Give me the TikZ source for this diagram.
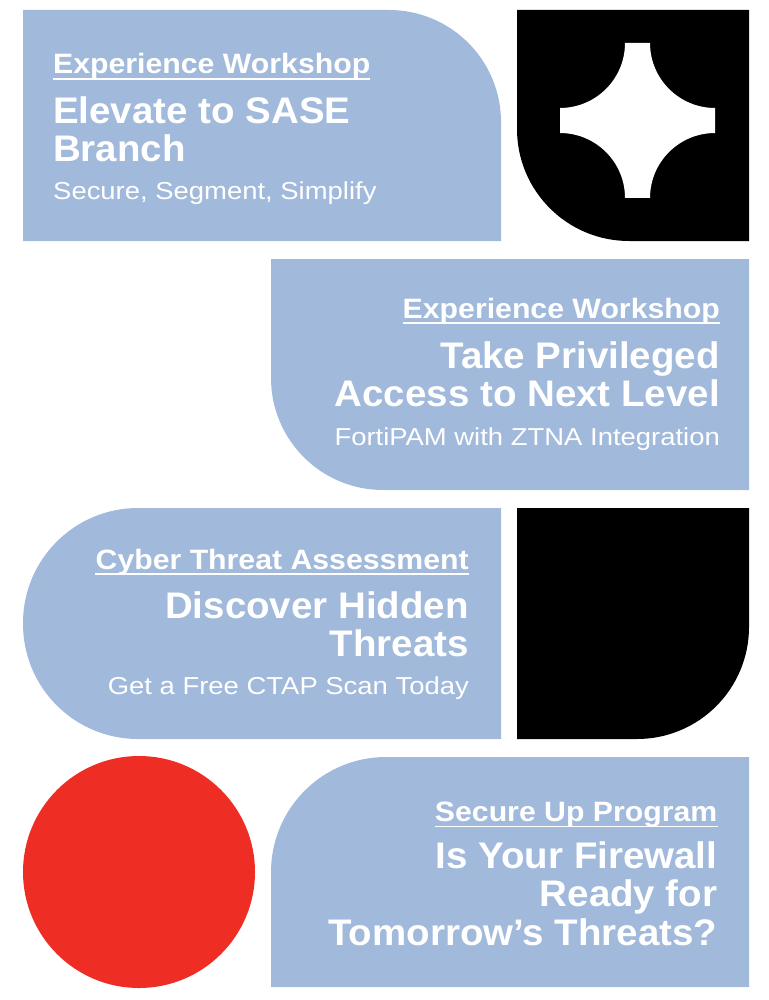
\documentclass[tikz,border=0pt]{standalone}
\usepackage{fontspec}
\setmainfont{Liberation Sans}
\newfontfamily\subhfont{Liberation Sans}[FakeStretch=1.08]
\newfontfamily\titlefont{Liberation Sans}[FakeStretch=1.04]
\newfontfamily\tagfont{Liberation Sans}[FakeStretch=1.12]
\definecolor{panelblue}{HTML}{A1B9DB}
\definecolor{dotred}{HTML}{EE2E24}
\tikzset{
  panel/.style={fill=panelblue},
  blackbox/.style={fill=black},
  subh/.style={inner sep=0pt, text=white, font=\subhfont\bfseries\fontsize{28}{30}\selectfont},
  ttl/.style={inner sep=0pt, text=white, font=\titlefont\bfseries\fontsize{37}{40}\selectfont},
  tagl/.style={inner sep=0pt, text=white, font=\tagfont\fontsize{24.5}{27}\selectfont},
  uline/.style={draw=white, line width=1.8pt}
}
\begin{document}
\begin{tikzpicture}[x=1pt,y=-1pt]
\useasboundingbox (0,0) rectangle (768,1000);
\fill[white] (0,0) rectangle (768,1000);

% Row 1
\fill[panel] (23,10) -- (389,10) arc[start angle=-90,end angle=0,radius=112] -- (501,241) -- (23,241) -- cycle;
\fill[blackbox] (517,10) -- (749,10) -- (749,241) -- (629,241) arc[start angle=90,end angle=180,radius=112] -- cycle;
\fill[white] (625,43) -- (650,43) arc[start angle=180,end angle=90,radius=65]
  -- (715,133) arc[start angle=270,end angle=180,radius=65]
  -- (625,198) arc[start angle=0,end angle=-90,radius=65]
  -- (560,108) arc[start angle=90,end angle=0,radius=65] -- cycle;

\node[subh, anchor=base west] (s1) at (53,74) {Experience Workshop};
\draw[uline] ([yshift=-5pt]s1.base west) -- ([yshift=-5pt]s1.base east);
\node[ttl, anchor=base west] (t1a) at (53,123.3) {Elevate to SASE};
\node[ttl, anchor=base west] (t1b) at (53,161.7) {Branch};
\node[tagl, anchor=base west] (g1) at (53,199.3) {Secure, Segment, Simplify};

% Row 2
\fill[panel] (271,259) -- (749,259) -- (749,490) -- (383,490) arc[start angle=90,end angle=180,radius=112] -- cycle;
\node[subh, anchor=base east] (s2) at (720,318.3) {Experience Workshop};
\draw[uline] ([yshift=-4.5pt]s2.base west) -- ([yshift=-4.5pt]s2.base east);
\node[ttl, anchor=base east] (t2a) at (720,368.3) {Take Privileged};
\node[ttl, anchor=base east] (t2b) at (720,406.7) {Access to Next Level};
\node[tagl, anchor=base east] (g2) at (720,445) {FortiPAM with ZTNA Integration};

% Row 3
\fill[panel] (501,508) -- (138,508) arc[start angle=270,end angle=180,radius=115] -- (23,624) arc[start angle=180,end angle=90,radius=115] -- (501,739) -- cycle;
\fill[blackbox] (517,508) -- (749,508) -- (749,627) arc[start angle=0,end angle=90,radius=112] -- (517,739) -- cycle;
\node[subh, anchor=base east] (s3) at (469,569.3) {Cyber Threat Assessment};
\draw[uline] ([yshift=-4.7pt]s3.base west) -- ([yshift=-4.7pt]s3.base east);
\node[ttl, anchor=base east] (t3a) at (469,618.3) {Discover Hidden};
\node[ttl, anchor=base east] (t3b) at (469,656.7) {Threats};
\node[tagl, anchor=base east] (g3) at (469,694.3) {Get a Free CTAP Scan Today};

% Row 4
\fill[dotred] (139,872) circle[radius=116];
\fill[panel] (271,987) -- (271,872) arc[start angle=180,end angle=270,radius=115] -- (749,757) -- (749,987) -- cycle;
\node[subh, anchor=base east] (s4) at (717.5,821) {Secure Up Program};
\draw[uline] ([yshift=-5.5pt]s4.base west) -- ([yshift=-5.5pt]s4.base east);
\node[ttl, anchor=base east] (t4a) at (717.5,868.3) {Is Your Firewall};
\node[ttl, anchor=base east] (t4b) at (717.5,906.7) {Ready for};
\node[ttl, anchor=base east] (t4c) at (717.5,945) {Tomorrow’s Threats?};
\end{tikzpicture}
\end{document}
